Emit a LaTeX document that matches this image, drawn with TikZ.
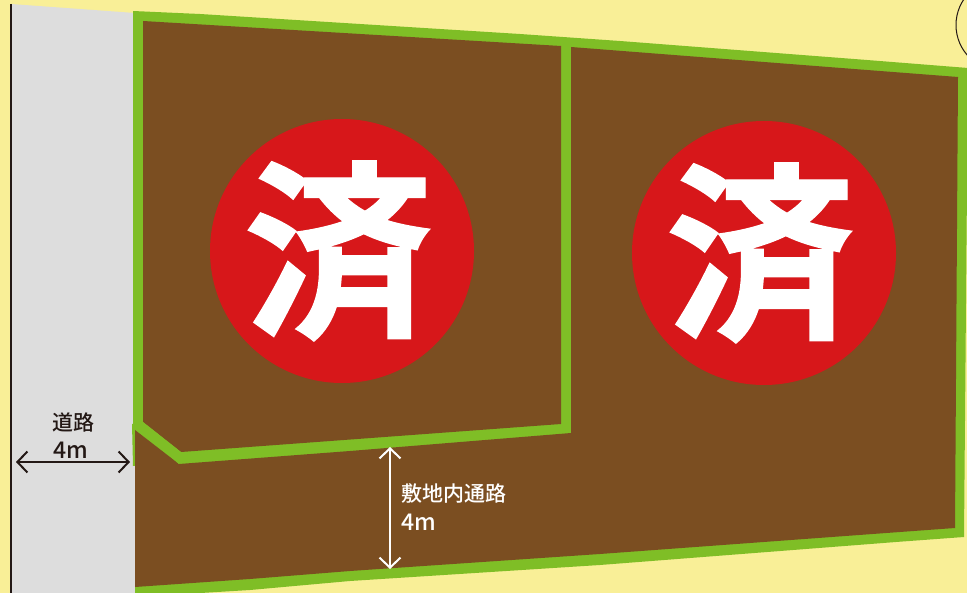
\documentclass[tikz,border=0pt]{standalone}
\usepackage{fontspec}
\usetikzlibrary{arrows.meta}
\newfontfamily\cjkreg{Noto Sans CJK JP Medium}
\newfontfamily\cjkbold[FakeBold=0.7]{Noto Sans CJK JP Bold}
\definecolor{bgyellow}{HTML}{F9EF97}
\definecolor{lotgreen}{HTML}{7FBE26}
\definecolor{lotbrown}{HTML}{7B4E21}
\definecolor{stampred}{HTML}{D7171A}
\definecolor{roadgray}{HTML}{DDDDDD}
\definecolor{inkdark}{HTML}{231815}
\tikzset{
  x=1pt,y=-1pt,
  stamp/.style={circle,fill=stampred,minimum size=264pt,inner sep=0pt},
  stampglyph/.style={inner sep=0pt,text=white,font=\cjkbold\fontsize{190}{190}\selectfont},
  dim/.style={line width=2pt,{Straight Barb[length=10pt,width=21pt,line width=2pt]}-{Straight Barb[length=10pt,width=21pt,line width=2pt]}},
  label/.style={inner sep=0pt,font=\cjkreg\fontsize{21}{24}\selectfont},
  labelnum/.style={inner sep=0pt,font=\cjkreg\fontsize{23}{24}\selectfont}
}
\begin{document}
\begin{tikzpicture}
\useasboundingbox (0,0) rectangle (967,593);
\clip (0,0) rectangle (967,593);
\fill[bgyellow] (0,0) rectangle (967,593);
% road
\fill[roadgray] (11,4) -- (135,13) -- (135,593) -- (11,593) -- cycle;
\draw[inkdark,line width=2.2pt] (11,4) -- (11,593);
\draw[inkdark!70!white,line width=0.8pt] (135,430) -- (135,593);
% compass circle
\draw[inkdark,line width=1pt] (1002,25) circle (46);
% green outline
\fill[lotgreen] (133,11) -- (200,14) -- (520,34) -- (620,41) -- (867,60) -- (968,68) -- (964,537) -- (900,541.7) -- (600,565) -- (350,581) -- (250,590) -- (135,597) -- (135,466) -- (133,466) -- (132,424) -- (133,424) -- cycle;
% brown lots
\fill[lotbrown] (143,21) -- (561,46) -- (561,424) -- (181,452) -- (143,422) -- cycle;
\fill[lotbrown] (571,47) -- (867,70) -- (958,77) -- (955,528) -- (900,532) -- (600,554) -- (350,571) -- (250,579) -- (135,587) -- (135,466) -- (135,430) -- (179,464) -- (350,451) -- (571,433) -- cycle;
\fill[lotgreen] (133,424) -- (179,464) -- (181,452) -- (143,422) -- cycle;
% stamps
\node[stamp] (s1) at (342,251) {};
\node[stamp] (s2) at (764,253) {};
\node[stampglyph] (g1) at (338,251) {済};
\node[stampglyph] (g2) at (760,253) {済};
% dimensions
\coordinate (rl) at (16,462);
\coordinate (rr) at (130,462);
\draw[dim,inkdark] (rl) -- (rr);
\node[label,text=inkdark] (roadname) at (73,422) {道路};
\node[labelnum,text=inkdark] (roadw) at (71,450) {4m};
\coordinate (pt) at (390,447);
\coordinate (pb) at (390,569);
\draw[dim,white] (pt) -- (pb);
\node[label,text=white,anchor=west] (passname) at (401,493) {敷地内通路};
\node[labelnum,text=white,anchor=west] (passw) at (401,522) {4m};
\end{tikzpicture}
\end{document}
